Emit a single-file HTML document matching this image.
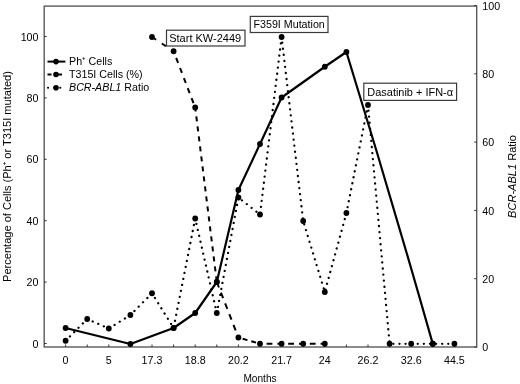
<!DOCTYPE html><html><head><meta charset="utf-8"><title>Chart</title><style>html,body{margin:0;padding:0;background:#fff}svg{display:block}text{font-family:"Liberation Sans",Arial,sans-serif;fill:#000}</style></head><body>
<svg width="520" height="384" viewBox="0 0 520 384">
<rect width="520" height="384" fill="#fff"/>
<rect x="44.2" y="6.1" width="432.5" height="340.9" fill="none" stroke="#5a5a5a" stroke-width="1.4"/>
<text x="38.5" y="347.60" font-size="10.7" text-anchor="end">0</text>
<text x="38.5" y="286.20" font-size="10.7" text-anchor="end">20</text>
<text x="38.5" y="224.80" font-size="10.7" text-anchor="end">40</text>
<text x="38.5" y="163.40" font-size="10.7" text-anchor="end">60</text>
<text x="38.5" y="102.00" font-size="10.7" text-anchor="end">80</text>
<text x="38.5" y="40.60" font-size="10.7" text-anchor="end">100</text>
<text x="482.3" y="351.10" font-size="10.7">0</text>
<text x="482.3" y="282.80" font-size="10.7">20</text>
<text x="482.3" y="214.50" font-size="10.7">40</text>
<text x="482.3" y="146.20" font-size="10.7">60</text>
<text x="482.3" y="77.90" font-size="10.7">80</text>
<text x="482.3" y="9.60" font-size="10.7">100</text>
<g stroke="#333" stroke-width="1"><line x1="44.2" y1="343.50" x2="46.7" y2="343.50"/><line x1="44.2" y1="282.10" x2="46.7" y2="282.10"/><line x1="44.2" y1="220.70" x2="46.7" y2="220.70"/><line x1="44.2" y1="159.30" x2="46.7" y2="159.30"/><line x1="44.2" y1="97.90" x2="46.7" y2="97.90"/><line x1="44.2" y1="36.50" x2="46.7" y2="36.50"/><line x1="476.7" y1="347.00" x2="474.2" y2="347.00"/><line x1="476.7" y1="278.70" x2="474.2" y2="278.70"/><line x1="476.7" y1="210.40" x2="474.2" y2="210.40"/><line x1="476.7" y1="142.10" x2="474.2" y2="142.10"/><line x1="476.7" y1="73.80" x2="474.2" y2="73.80"/><line x1="476.7" y1="5.50" x2="474.2" y2="5.50"/><line x1="65.6" y1="347.0" x2="65.6" y2="344.5"/><line x1="87.2" y1="347.0" x2="87.2" y2="344.5"/><line x1="108.8" y1="347.0" x2="108.8" y2="344.5"/><line x1="130.4" y1="347.0" x2="130.4" y2="344.5"/><line x1="152.0" y1="347.0" x2="152.0" y2="344.5"/><line x1="173.6" y1="347.0" x2="173.6" y2="344.5"/><line x1="195.2" y1="347.0" x2="195.2" y2="344.5"/><line x1="216.8" y1="347.0" x2="216.8" y2="344.5"/><line x1="238.4" y1="347.0" x2="238.4" y2="344.5"/><line x1="260.0" y1="347.0" x2="260.0" y2="344.5"/><line x1="281.6" y1="347.0" x2="281.6" y2="344.5"/><line x1="303.2" y1="347.0" x2="303.2" y2="344.5"/><line x1="324.8" y1="347.0" x2="324.8" y2="344.5"/><line x1="346.4" y1="347.0" x2="346.4" y2="344.5"/><line x1="368.0" y1="347.0" x2="368.0" y2="344.5"/><line x1="389.6" y1="347.0" x2="389.6" y2="344.5"/><line x1="411.2" y1="347.0" x2="411.2" y2="344.5"/><line x1="432.8" y1="347.0" x2="432.8" y2="344.5"/><line x1="454.4" y1="347.0" x2="454.4" y2="344.5"/></g>
<text x="65.6" y="363.5" font-size="10.7" text-anchor="middle">0</text>
<text x="108.8" y="363.5" font-size="10.7" text-anchor="middle">5</text>
<text x="152.0" y="363.5" font-size="10.7" text-anchor="middle">17.3</text>
<text x="195.2" y="363.5" font-size="10.7" text-anchor="middle">18.8</text>
<text x="238.4" y="363.5" font-size="10.7" text-anchor="middle">20.2</text>
<text x="281.6" y="363.5" font-size="10.7" text-anchor="middle">21.7</text>
<text x="324.8" y="363.5" font-size="10.7" text-anchor="middle">24</text>
<text x="368.0" y="363.5" font-size="10.7" text-anchor="middle">26.2</text>
<text x="411.2" y="363.5" font-size="10.7" text-anchor="middle">32.6</text>
<text x="454.4" y="363.5" font-size="10.7" text-anchor="middle">44.5</text>
<text x="260" y="381.5" font-size="10.8" text-anchor="middle" textLength="33.2" lengthAdjust="spacingAndGlyphs">Months</text>
<text transform="translate(10.6,176.5) rotate(-90)" font-size="11.05" text-anchor="middle">Percentage of Cells (Ph<tspan dy="-5" font-size="6" font-weight="bold">+</tspan><tspan dy="5"> or T315I mutated)</tspan></text>
<text transform="translate(515.7,176.5) rotate(-90)" font-size="11.05" text-anchor="middle"><tspan font-style="italic">BCR-ABL1</tspan> Ratio</text>
<polyline points="65.6,340.75 87.2,319 108.8,328.5 130.4,315 152.0,293.25 173.6,328 195.2,218.5 216.8,313 238.4,197.5 260.0,214.5 281.6,37 303.2,221 324.8,292 346.4,213 368.0,105 389.6,343.75 411.2,343.75 432.8,343.75 454.4,343.75" fill="none" stroke="#000" stroke-width="2.25" stroke-linecap="round" stroke-dasharray="0.1 6"/>
<line x1="152.0" y1="37" x2="173.6" y2="51.25" stroke="#000" stroke-width="2" stroke-dasharray="5 6.8" stroke-dashoffset="0"/>
<line x1="173.6" y1="51.25" x2="195.2" y2="107.5" stroke="#000" stroke-width="2" stroke-dasharray="5.3 5.45" stroke-dashoffset="3.55"/>
<line x1="195.2" y1="107.5" x2="216.8" y2="282" stroke="#000" stroke-width="2" stroke-dasharray="5.1 4.97" stroke-dashoffset="1.07"/>
<line x1="216.8" y1="282" x2="238.4" y2="337.5" stroke="#000" stroke-width="2" stroke-dasharray="5.9 5.6" stroke-dashoffset="0"/>
<line x1="238.4" y1="337.5" x2="260.0" y2="343.75" stroke="#000" stroke-width="2" stroke-dasharray="5 4" stroke-dashoffset="4.6"/>
<line x1="260.0" y1="343.75" x2="324.8" y2="343.75" stroke="#000" stroke-width="2" stroke-dasharray="5.8 5" stroke-dashoffset="4.2"/>
<path d="M65.6,328 L130.4,344 L173.6,328 L195.2,313 L216.8,282 L238.4,190 L260.0,144 L281.6,97.5 L324.8,66.75 L346.4,52 Q391.4,197.8 432.8,343.9" fill="none" stroke="#000" stroke-width="2.2" stroke-linejoin="round"/>
<g fill="#000"><circle cx="65.6" cy="340.75" r="2.9"/><circle cx="87.2" cy="319" r="2.9"/><circle cx="108.8" cy="328.5" r="2.9"/><circle cx="130.4" cy="315" r="2.9"/><circle cx="152.0" cy="293.25" r="2.9"/><circle cx="173.6" cy="328" r="2.9"/><circle cx="195.2" cy="218.5" r="2.9"/><circle cx="216.8" cy="313" r="2.9"/><circle cx="238.4" cy="197.5" r="2.9"/><circle cx="260.0" cy="214.5" r="2.9"/><circle cx="281.6" cy="37" r="2.9"/><circle cx="303.2" cy="221" r="2.9"/><circle cx="324.8" cy="292" r="2.9"/><circle cx="346.4" cy="213" r="2.9"/><circle cx="368.0" cy="105" r="2.9"/><circle cx="389.6" cy="343.75" r="2.9"/><circle cx="411.2" cy="343.75" r="2.9"/><circle cx="432.8" cy="343.75" r="2.9"/><circle cx="454.4" cy="343.75" r="2.9"/><circle cx="152.0" cy="37" r="2.9"/><circle cx="173.6" cy="51.25" r="2.9"/><circle cx="195.2" cy="107.5" r="2.9"/><circle cx="216.8" cy="282" r="2.9"/><circle cx="238.4" cy="337.5" r="2.9"/><circle cx="260.0" cy="343.75" r="2.9"/><circle cx="281.6" cy="343.75" r="2.9"/><circle cx="303.2" cy="343.75" r="2.9"/><circle cx="324.8" cy="343.75" r="2.9"/><circle cx="65.6" cy="328" r="2.9"/><circle cx="130.4" cy="344" r="2.9"/><circle cx="173.6" cy="328" r="2.9"/><circle cx="195.2" cy="313" r="2.9"/><circle cx="216.8" cy="282" r="2.9"/><circle cx="238.4" cy="190" r="2.9"/><circle cx="260.0" cy="144" r="2.9"/><circle cx="281.6" cy="97.5" r="2.9"/><circle cx="324.8" cy="66.75" r="2.9"/><circle cx="346.4" cy="52" r="2.9"/><circle cx="432.8" cy="343.75" r="2.9"/></g>
<g stroke="#000" fill="none"><line x1="47.5" y1="61.6" x2="65.4" y2="61.6" stroke-width="2"/><line x1="47.5" y1="74.5" x2="65.4" y2="74.5" stroke-width="2" stroke-dasharray="5.5 5" stroke-dashoffset="1.5"/><line x1="48" y1="87.8" x2="65.4" y2="87.8" stroke-width="2" stroke-linecap="round" stroke-dasharray="0.1 6"/></g>
<g fill="#000"><circle cx="56" cy="61.6" r="2.8"/><circle cx="56" cy="74.5" r="2.8"/><circle cx="56" cy="87.8" r="2.8"/></g>
<text x="69" y="65.2" font-size="10.7">Ph<tspan dy="-5" font-size="6" font-weight="bold">+</tspan><tspan dy="5"> Cells</tspan></text>
<text x="69" y="78.1" font-size="10.7">T315I Cells (%)</text>
<text x="69" y="91.39999999999999" font-size="10.7"><tspan font-style="italic">BCR-ABL1</tspan> Ratio</text>
<rect x="166.5" y="30.2" width="78.5" height="15.8" fill="#fff" stroke="#3a3a3a" stroke-width="1.2"/>
<text x="205.2" y="41.9" font-size="11" text-anchor="middle">Start KW-2449</text>
<rect x="250.3" y="16.4" width="77.69999999999999" height="16.1" fill="#fff" stroke="#3a3a3a" stroke-width="1.2"/>
<text x="289.15" y="28.25" font-size="10.7" text-anchor="middle">F359I Mutation</text>
<rect x="363.8" y="83.2" width="92.80000000000001" height="17.200000000000003" fill="#fff" stroke="#3a3a3a" stroke-width="1.2"/>
<text x="410.20000000000005" y="95.60000000000001" font-size="10.95" text-anchor="middle">Dasatinib + IFN-α</text>
</svg></body></html>
